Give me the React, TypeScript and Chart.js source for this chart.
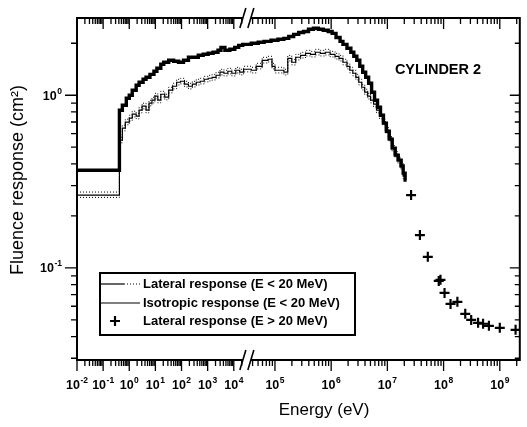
import React, { useEffect, useRef } from 'react';
import { Chart, registerables, LogarithmicScale } from 'chart.js';

Chart.register(...registerables);

// ---- axis ranges ----
const X_MIN = 0.01;
const X_BREAK = 31623; // scale changes here (marked //)
const X_MAX = 2.27e9;
const BREAK_FRACTION = 0.3836; // share of the axis width used by the left part
const Y_MIN = 0.0293;
const Y_MAX = 2.8;

const X_DECADES = [-2, -1, 0, 1, 2, 3, 4, 5, 6, 7, 8, 9];
const Y_DECADES = [-2, -1, 0];
const X_LABEL_DECADES = [-2, -1, 0, 1, 2, 3, 4, 5, 6, 7, 8, 9];
const Y_LABEL_DECADES = [-1, 0];
const MULTIPLIERS = [1, 2, 3, 4, 5, 6, 7, 8, 9];

// ---- data ----
const LATERAL_E = [0.01, 0.42, 0.544, 0.77, 1.0, 1.3, 1.84, 2.38, 3.38, 4.38, 6.2, 8.8, 11.4, 16.1, 20.9, 32.3, 49.9, 77, 119, 184, 284, 438, 676, 1045, 1614, 2490, 3230, 4570, 7060, 10900, 15400, 21900, 37900, 50400, 64100, 85100, 1.13e5, 1.44e5, 1.76e5, 2.15e5, 2.64e5, 3.23e5, 3.95e5, 4.83e5, 5.91e5, 7.24e5, 8.86e5, 1.04e6, 1.22e6, 1.44e6, 1.62e6, 1.91e6, 2.24e6, 2.53e6, 2.86e6, 3.23e6, 3.64e6, 4.11e6, 4.64e6, 5.24e6, 5.91e6, 6.68e6, 7.54e6, 8.51e6, 9.6e6, 1.08e7, 1.22e7, 1.38e7, 1.56e7, 1.76e7, 1.91e7, 2.07e7, 2.2e7];
const LATERAL_V = [0.368, 0.819, 0.875, 0.961, 1.0, 1.069, 1.142, 1.189, 1.237, 1.27, 1.32, 1.377, 1.432, 1.51, 1.552, 1.593, 1.573, 1.552, 1.593, 1.659, 1.659, 1.703, 1.726, 1.749, 1.773, 1.82, 1.893, 1.82, 1.845, 1.893, 1.945, 1.971, 1.998, 2.025, 2.05, 2.08, 2.11, 2.135, 2.19, 2.25, 2.31, 2.34, 2.41, 2.44, 2.41, 2.377, 2.34, 2.28, 2.16, 2.05, 1.97, 1.87, 1.773, 1.68, 1.593, 1.471, 1.359, 1.27, 1.173, 1.041, 0.936, 0.852, 0.766, 0.689, 0.619, 0.557, 0.494, 0.45, 0.421, 0.389, 0.354, 0.323, 0.323];

const ISO_E = [0.01, 0.42, 0.544, 0.706, 1.0, 1.3, 1.84, 2.38, 3.1, 4.38, 5.69, 7.38, 9.58, 12.4, 16.1, 22.8, 32.3, 45.7, 64.7, 91.6, 130, 184, 260, 368, 521, 738, 1045, 1479, 2094, 2963, 4195, 5940, 8410, 11900, 16800, 23800, 37900, 46400, 59200, 75400, 88600, 1.0e5, 1.18e5, 1.44e5, 1.69e5, 1.99e5, 2.34e5, 2.86e5, 3.5e5, 4.28e5, 5.24e5, 6.41e5, 7.85e5, 9.6e5, 1.17e6, 1.38e6, 1.62e6, 1.91e6, 2.15e6, 2.43e6, 2.75e6, 3.1e6, 3.5e6, 3.95e6, 4.46e6, 5.03e6, 5.68e6, 6.41e6, 7.24e6, 8.17e6, 9.22e6, 1.04e7, 1.18e7, 1.33e7, 1.5e7, 1.69e7, 1.91e7, 2.05e7];
const ISO_V = [0.264, 0.549, 0.645, 0.698, 0.736, 0.777, 0.756, 0.819, 0.864, 0.819, 0.899, 0.936, 0.987, 0.936, 1.013, 0.974, 1.069, 1.127, 1.189, 1.205, 1.158, 1.127, 1.158, 1.189, 1.205, 1.237, 1.254, 1.27, 1.305, 1.359, 1.34, 1.377, 1.34, 1.395, 1.359, 1.414, 1.395, 1.471, 1.593, 1.615, 1.471, 1.395, 1.395, 1.359, 1.636, 1.552, 1.659, 1.703, 1.749, 1.726, 1.773, 1.749, 1.773, 1.726, 1.68, 1.636, 1.552, 1.471, 1.395, 1.34, 1.27, 1.189, 1.112, 1.041, 0.987, 0.936, 0.887, 0.819, 0.756, 0.698, 0.628, 0.564, 0.494, 0.456, 0.421, 0.389, 0.34, 0.34];
const ISO_UPPER = [0.275, 0.571, 0.671, 0.726, 0.766, 0.808, 0.786, 0.852, 0.899, 0.852, 0.935, 0.973, 1.026, 0.973, 1.054, 1.013, 1.112, 1.172, 1.237, 1.253, 1.204, 1.172, 1.204, 1.237, 1.253, 1.286, 1.304, 1.321, 1.357, 1.413, 1.394, 1.432, 1.394, 1.451, 1.413, 1.471, 1.451, 1.53, 1.657, 1.68, 1.53, 1.451, 1.451, 1.413, 1.701, 1.614, 1.725, 1.771, 1.819, 1.795, 1.844, 1.819, 1.844, 1.795, 1.747, 1.701, 1.614, 1.53, 1.451, 1.394, 1.321, 1.237, 1.156, 1.083, 1.026, 0.973, 0.922, 0.852, 0.786, 0.726, 0.653, 0.587, 0.514, 0.474, 0.438, 0.405, 0.354, 0.354];
const ISO_LOWER = [0.256, 0.53, 0.622, 0.674, 0.71, 0.75, 0.73, 0.79, 0.834, 0.79, 0.868, 0.903, 0.952, 0.903, 0.978, 0.94, 1.032, 1.088, 1.147, 1.163, 1.117, 1.088, 1.117, 1.147, 1.163, 1.194, 1.21, 1.226, 1.259, 1.311, 1.293, 1.329, 1.293, 1.346, 1.311, 1.365, 1.346, 1.42, 1.537, 1.558, 1.42, 1.346, 1.346, 1.311, 1.579, 1.498, 1.601, 1.643, 1.688, 1.666, 1.711, 1.688, 1.711, 1.666, 1.621, 1.579, 1.498, 1.42, 1.346, 1.293, 1.226, 1.147, 1.073, 1.005, 0.952, 0.903, 0.856, 0.79, 0.73, 0.674, 0.606, 0.544, 0.477, 0.44, 0.406, 0.375, 0.328, 0.328];

const HIGH_E = [2.64e7, 3.79e7, 5.24e7, 8.2e7, 8.8e7, 1.04e8, 1.33e8, 1.76e8, 2.43e8, 3.1e8, 4.11e8, 5.04e8, 6.41e8, 1.0e9, 1.91e9];
const HIGH_V = [0.264, 0.155, 0.116, 0.0841, 0.0853, 0.0717, 0.0619, 0.0636, 0.0542, 0.05, 0.0481, 0.0475, 0.0462, 0.045, 0.0438];

const LEGEND_LABELS = [
  'Lateral response (E < 20 MeV)',
  'Isotropic response (E < 20 MeV)',
  'Lateral response (E > 20 MeV)',
];
const ANNOTATION = 'CYLINDER 2';
const X_TITLE = 'Energy (eV)';
const Y_TITLE = 'Fluence response (cm²)';

const FONT = '"Liberation Sans", Arial, Helvetica, sans-serif';

// ---- piecewise logarithmic scale with a change of scale at X_BREAK ----
const L_MIN = Math.log10(X_MIN);
const L_BRK = Math.log10(X_BREAK);
const L_MAX = Math.log10(X_MAX);
function decimalForValue(v: number) {
  const l = Math.log10(v);
  if (l <= L_BRK) return ((l - L_MIN) / (L_BRK - L_MIN)) * BREAK_FRACTION;
  return BREAK_FRACTION + ((l - L_BRK) / (L_MAX - L_BRK)) * (1 - BREAK_FRACTION);
}
function valueForDecimal(d: number) {
  if (d <= BREAK_FRACTION) return Math.pow(10, L_MIN + (d / BREAK_FRACTION) * (L_BRK - L_MIN));
  return Math.pow(10, L_BRK + ((d - BREAK_FRACTION) / (1 - BREAK_FRACTION)) * (L_MAX - L_BRK));
}

class BrokenLogScale extends LogarithmicScale {
  static id = 'brokenLog';
  static defaults = {};
  getPixelForValue(value: number) {
    if (value === null || value === undefined || isNaN(value) || value <= 0) return NaN;
    return this.getPixelForDecimal(decimalForValue(value));
  }
  getValueForPixel(pixel: number) {
    return valueForDecimal(this.getDecimalForPixel(pixel));
  }
}
Chart.register(BrokenLogScale as any);

function pts(xs: number[], ys: number[]) {
  return xs.map((x, i) => ({ x, y: ys[i] }));
}

function drawPower(ctx: CanvasRenderingContext2D, exp: number, x: number, y: number, align: 'center' | 'right') {
  const base = '10';
  const sup = String(exp);
  ctx.font = `bold 12.5px ${FONT}`;
  const wb = ctx.measureText(base).width;
  ctx.font = `bold 8.5px ${FONT}`;
  const ws = ctx.measureText(sup).width;
  const total = wb + ws + 0.5;
  const sx = align === 'center' ? x - total / 2 : x - total;
  ctx.textAlign = 'left';
  ctx.textBaseline = 'middle';
  ctx.font = `bold 12.5px ${FONT}`;
  ctx.fillText(base, sx, y);
  ctx.font = `bold 8.5px ${FONT}`;
  ctx.fillText(sup, sx + wb + 0.5, y - 5);
}

const decorPlugin = {
  id: 'decor',
  afterDatasetsDraw(chart: any) {
    const { ctx, chartArea: a, scales } = chart;
    const xs = scales.x;
    const ys = scales.y;
    const bx = xs.getPixelForValue(X_BREAK);
    ctx.save();
    ctx.strokeStyle = '#000';
    ctx.fillStyle = '#000';

    // frame
    ctx.lineWidth = 2;
    ctx.strokeRect(a.left, a.top, a.right - a.left, a.bottom - a.top);

    // x ticks (bottom outward, top inward)
    ctx.lineWidth = 1.3;
    for (const e of X_DECADES) {
      for (const m of MULTIPLIERS) {
        const v = m * Math.pow(10, e);
        if (v < X_MIN * 0.999 || v > X_MAX) continue;
        const px = xs.getPixelForValue(v);
        if (Math.abs(px - bx) < 4) continue;
        const len = m === 1 ? 11 : 6;
        ctx.beginPath();
        ctx.moveTo(px, a.bottom);
        ctx.lineTo(px, a.bottom + len);
        ctx.moveTo(px, a.top);
        ctx.lineTo(px, a.top + len);
        ctx.stroke();
      }
    }
    // y ticks (left outward, right inward)
    for (const e of Y_DECADES) {
      for (const m of MULTIPLIERS) {
        const v = m * Math.pow(10, e);
        if (v < Y_MIN * 0.999 || v > Y_MAX) continue;
        const py = ys.getPixelForValue(v);
        const len = m === 1 ? 12 : 6;
        ctx.beginPath();
        ctx.moveTo(a.left, py);
        ctx.lineTo(a.left - len, py);
        ctx.moveTo(a.right, py);
        ctx.lineTo(a.right - (m === 1 ? 10 : 5), py);
        ctx.stroke();
      }
    }

    // axis break marks
    for (const yy of [a.top, a.bottom]) {
      ctx.fillStyle = '#fff';
      ctx.fillRect(bx - 4, yy - 3, 8, 6);
      ctx.fillStyle = '#000';
      ctx.lineWidth = 1.6;
      ctx.beginPath();
      ctx.moveTo(bx - 7, yy + 10);
      ctx.lineTo(bx - 1, yy - 10);
      ctx.moveTo(bx + 1, yy + 10);
      ctx.lineTo(bx + 7, yy - 10);
      ctx.stroke();
    }

    // tick labels
    ctx.fillStyle = '#000';
    for (const e of X_LABEL_DECADES) {
      drawPower(ctx, e, xs.getPixelForValue(Math.pow(10, e)), a.bottom + 26, 'center');
    }
    for (const e of Y_LABEL_DECADES) {
      drawPower(ctx, e, a.left - 15, ys.getPixelForValue(Math.pow(10, e)) + 1, 'right');
    }

    // axis titles
    ctx.textAlign = 'center';
    ctx.textBaseline = 'middle';
    ctx.font = `17px ${FONT}`;
    ctx.fillText(X_TITLE, 324, a.bottom + 50);
    ctx.save();
    ctx.font = `18px ${FONT}`;
    ctx.translate(18, 180);
    ctx.rotate(-Math.PI / 2);
    ctx.fillText(Y_TITLE, 0, 0);
    ctx.restore();

    // annotation
    ctx.font = `bold 14.5px ${FONT}`;
    ctx.textAlign = 'center';
    ctx.fillText(ANNOTATION, 438, 70);

    // legend
    const lx = 100, ly = 273, lw = 255, lh = 62;
    ctx.fillStyle = '#fff';
    ctx.fillRect(lx, ly, lw, lh);
    ctx.fillStyle = '#000';
    ctx.lineWidth = 2;
    ctx.strokeRect(lx, ly, lw, lh);
    const rows = [284, 303, 321];
    ctx.font = `bold 13px ${FONT}`;
    ctx.textAlign = 'left';
    ctx.textBaseline = 'middle';
    // row 1 sample
    ctx.lineWidth = 1.2;
    ctx.beginPath();
    ctx.moveTo(lx, rows[0]);
    ctx.lineTo(lx + 24, rows[0]);
    ctx.stroke();
    ctx.setLineDash([1, 2]);
    ctx.beginPath();
    ctx.moveTo(lx + 24, rows[0]);
    ctx.lineTo(lx + 40, rows[0]);
    ctx.stroke();
    ctx.setLineDash([]);
    // row 2 sample
    ctx.beginPath();
    ctx.moveTo(lx, rows[1]);
    ctx.lineTo(lx + 40, rows[1]);
    ctx.stroke();
    // row 3 sample
    ctx.lineWidth = 2.2;
    ctx.beginPath();
    ctx.moveTo(lx + 15 - 5, rows[2]);
    ctx.lineTo(lx + 15 + 5, rows[2]);
    ctx.moveTo(lx + 15, rows[2] - 5);
    ctx.lineTo(lx + 15, rows[2] + 5);
    ctx.stroke();
    const labels = chart.data.datasets.filter((d: any) => d.inLegend).map((d: any) => d.label);
    labels.forEach((t: string, i: number) => ctx.fillText(t, lx + 43, rows[i] + 0.5));

    ctx.restore();
  },
};

export default function App() {
  const ref = useRef<HTMLCanvasElement>(null);
  useEffect(() => {
    const chart = new Chart(ref.current as HTMLCanvasElement, {
      type: 'line',
      data: {
        datasets: [
          {
            label: LEGEND_LABELS[0],
            inLegend: true,
            data: pts(LATERAL_E, LATERAL_V),
            borderColor: '#000',
            borderWidth: 3.4,
            stepped: 'before',
            pointRadius: 0,
            fill: false,
          } as any,
          {
            label: LEGEND_LABELS[1],
            inLegend: true,
            data: pts(ISO_E, ISO_V),
            borderColor: '#000',
            borderWidth: 1.2,
            stepped: 'before',
            pointRadius: 0,
            fill: false,
          },
          {
            label: 'upper',
            data: pts(ISO_E, ISO_UPPER),
            borderColor: '#000',
            borderWidth: 1,
            borderDash: [1, 2],
            stepped: 'before',
            pointRadius: 0,
            fill: false,
          },
          {
            label: 'lower',
            data: pts(ISO_E, ISO_LOWER),
            borderColor: '#000',
            borderWidth: 1,
            borderDash: [1, 2],
            stepped: 'before',
            pointRadius: 0,
            fill: false,
          },
          {
            label: LEGEND_LABELS[2],
            inLegend: true,
            data: pts(HIGH_E, HIGH_V),
            showLine: false,
            pointStyle: 'cross',
            pointRadius: 5,
            pointBorderWidth: 2.2,
            borderColor: '#000',
            backgroundColor: '#000',
          },
        ],
      },
      options: {
        responsive: false,
        animation: false,
        devicePixelRatio: 1,
        layout: { padding: { left: 77, top: 18, right: 1, bottom: 67 } },
        plugins: { legend: { display: false }, tooltip: { enabled: false } },
        elements: { line: { tension: 0 } },
        scales: {
          x: { type: 'brokenLog' as any, min: X_MIN, max: X_MAX, display: false },
          y: { type: 'logarithmic', min: Y_MIN, max: Y_MAX, display: false },
        },
      },
      plugins: [decorPlugin],
    });
    return () => chart.destroy();
  }, []);
  return (
    <div style={{ position: 'fixed', left: 0, top: 0, width: 527, height: 427, background: '#fff' }}>
      <canvas ref={ref} width={527} height={427} style={{ display: 'block', width: 527, height: 427 }} />
    </div>
  );
}
